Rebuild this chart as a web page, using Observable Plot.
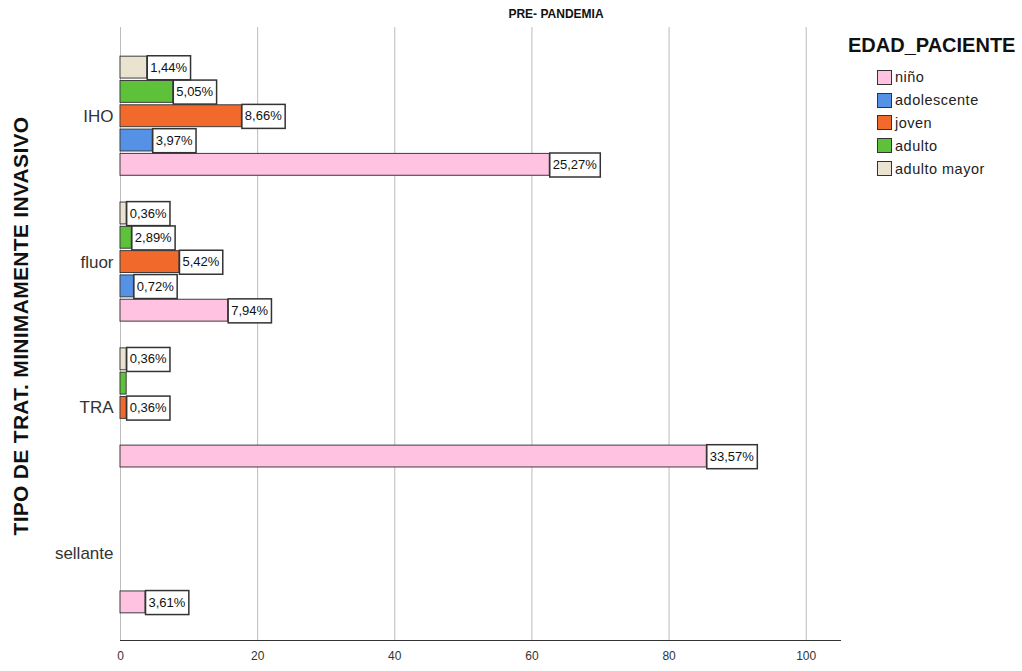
<!DOCTYPE html>
<html><head><meta charset="utf-8">
<script src="https://cdn.jsdelivr.net/npm/d3@7"></script>
<script src="https://cdn.jsdelivr.net/npm/@observablehq/plot@0.6"></script>
<style>
body{margin:0;background:#fff;font-family:"Liberation Sans",Arial,sans-serif;}
#wrap{position:relative;width:1022px;height:671px;overflow:hidden;}
#chart{position:absolute;left:0;top:0;}
#title{position:absolute;left:456px;width:200px;top:7px;text-align:center;font-weight:bold;font-size:12px;color:#111;}
#ytitle{position:absolute;left:21px;top:326px;transform:translate(-50%,-50%) rotate(-90deg);white-space:nowrap;font-weight:bold;font-size:21px;letter-spacing:0.3px;color:#111;}
#legend{position:absolute;left:848px;top:34px;}
#legend .lt{font-weight:bold;font-size:20px;color:#111;margin-bottom:9px;}
#legend .it{display:flex;align-items:center;height:22.8px;margin-left:29px;font-size:14.5px;letter-spacing:0.5px;color:#222;}
#legend .sw{width:15px;height:15px;box-sizing:border-box;border:1px solid #333;margin-right:3px;}
</style></head>
<body>
<div id="wrap">
  <div id="chart"></div>
  <div id="title">PRE- PANDEMIA</div>
  <div id="ytitle">TIPO DE TRAT. MINIMAMENTE INVASIVO</div>
  <div id="legend"></div>
</div>
<script>
// Categories (top to bottom)
const categories = ["IHO", "fluor", "TRA", "sellante"];
// Age groups (legend order) and colours
const groups = ["niño", "adolescente", "joven", "adulto", "adulto mayor"];
const groupColors = ["#FFC2E0", "#5592E6", "#F26A2B", "#5DC23A", "#EAE3D0"];
// Bar lengths per group, one value per category (null = no bar)
const nino        = [62.6, 15.7, 85.5, 3.65];
const adolescente = [4.7, 1.95, null, null];
const joven       = [17.7, 8.6, 0.9, null];
const adulto      = [7.7, 1.65, 0.9, null];
const adultoMayor = [3.9, 0.9, 0.9, null];
// Printed labels per group, one per category
const ninoLab        = ["25,27%", "7,94%", "33,57%", "3,61%"];
const adolescenteLab = ["3,97%", "0,72%", "", ""];
const jovenLab       = ["8,66%", "5,42%", "0,36%", ""];
const adultoLab      = ["5,05%", "2,89%", "", ""];
const adultoMayorLab = ["1,44%", "0,36%", "0,36%", ""];
// X axis ticks
const xTicks = [0, 20, 40, 60, 80, 100];

const seriesVals = {"niño": nino, "adolescente": adolescente, "joven": joven, "adulto": adulto, "adulto mayor": adultoMayor};
const seriesLabs = {"niño": ninoLab, "adolescente": adolescenteLab, "joven": jovenLab, "adulto": adultoLab, "adulto mayor": adultoMayorLab};
const stackOrder = ["adulto mayor", "adulto", "joven", "adolescente", "niño"];

const rows = [];
categories.forEach((c, i) => {
  groups.forEach(g => {
    const v = seriesVals[g][i];
    if (v != null) rows.push({cat: c, grp: g, key: c + "|" + g, v, label: seriesLabs[g][i]});
  });
});
const yDomain = [];
categories.forEach((c, i) => {
  if (i > 0) yDomain.push("gap" + i);
  stackOrder.forEach(g => yDomain.push(c + "|" + g));
});

const plot = Plot.plot({
  width: 1022, height: 671,
  marginLeft: 120, marginRight: 182, marginTop: 27, marginBottom: 31,
  style: {fontFamily: "'Liberation Sans', Arial, sans-serif", fontSize: "12px", color: "#333", background: "white"},
  x: {domain: [0, 105], ticks: xTicks, tickSize: 0, tickPadding: 11, label: null, line: true},
  y: {domain: yDomain, range: [27, 642], paddingInner: 0.1, paddingOuter: 1.2, round: false, axis: null},
  color: {domain: groups, range: groupColors},
  marks: [
    Plot.ruleX(xTicks, {stroke: "#bdbdbd", strokeWidth: 1}),
    Plot.barX(rows, {x: "v", y: "key", fill: "grp", stroke: "#3c3c3c", strokeWidth: 1}),
    Plot.text(categories, {y: d => d + "|joven", text: d => d, frameAnchor: "left", textAnchor: "end", dx: -7, fontSize: 17, fill: "#333"}),
    Plot.text(rows.filter(d => d.label), {x: "v", y: "key", text: "label", textAnchor: "start", fontSize: 13, fill: "#111", ariaLabel: "vlabels"})
  ]
});
document.getElementById("chart").appendChild(plot);

// draw framed boxes behind value labels
let lg = plot.querySelector('g[aria-label="vlabels"]');
if (!lg) { const all = plot.querySelectorAll('g[aria-label="text"]'); lg = all[all.length - 1]; }
if (lg) {
  lg.querySelectorAll("text").forEach(t => {
    const bb = t.getBBox();
    const r = document.createElementNS("http://www.w3.org/2000/svg", "rect");
    const cy = bb.y + bb.height / 2;
    r.setAttribute("x", bb.x);
    r.setAttribute("y", cy - 11.5);
    r.setAttribute("width", bb.width + 6);
    r.setAttribute("height", 24);
    r.setAttribute("fill", "white");
    r.setAttribute("stroke", "#333");
    r.setAttribute("stroke-width", "1.5");
    if (t.getAttribute("transform")) r.setAttribute("transform", t.getAttribute("transform"));
    t.parentNode.insertBefore(r, t);
    t.setAttribute("dx", "3");
  });
}

// legend
const leg = document.getElementById("legend");
leg.innerHTML = '<div class="lt">EDAD_PACIENTE</div>' + groups.map((g, i) =>
  `<div class="it"><span class="sw" style="background:${groupColors[i]}"></span>${g}</div>`).join("");
</script>
</body></html>
